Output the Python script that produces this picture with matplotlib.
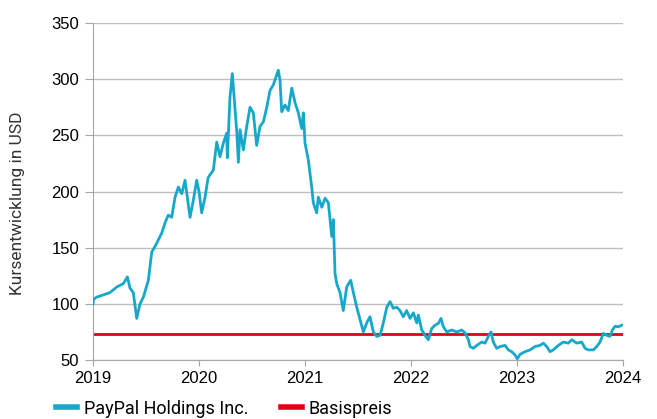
import matplotlib.pyplot as plt
from matplotlib.lines import Line2D

# Kursverlauf (Dezimaljahr, Kurs in USD)
years = [
    2019.000, 2019.005, 2019.035, 2019.097, 2019.160, 2019.224, 2019.286, 2019.324,
    2019.349, 2019.380, 2019.412, 2019.443, 2019.475, 2019.522, 2019.554, 2019.601,
    2019.648, 2019.679, 2019.710, 2019.742, 2019.774, 2019.805, 2019.837, 2019.868,
    2019.915, 2019.946, 2019.978, 2020.000, 2020.025, 2020.057, 2020.085, 2020.104,
    2020.135, 2020.167, 2020.198, 2020.229, 2020.261, 2020.267, 2020.292, 2020.314,
    2020.340, 2020.356, 2020.371, 2020.387, 2020.418, 2020.450, 2020.481, 2020.512,
    2020.544, 2020.575, 2020.607, 2020.639, 2020.670, 2020.701, 2020.733, 2020.748,
    2020.764, 2020.780, 2020.811, 2020.842, 2020.875, 2020.906, 2020.937, 2020.969,
    2020.984, 2021.000, 2021.031, 2021.063, 2021.078, 2021.110, 2021.125, 2021.158,
    2021.189, 2021.220, 2021.252, 2021.267, 2021.283, 2021.299, 2021.330, 2021.361,
    2021.393, 2021.431, 2021.456, 2021.488, 2021.519, 2021.550, 2021.582, 2021.613,
    2021.644, 2021.676, 2021.708, 2021.739, 2021.771, 2021.802, 2021.833, 2021.865,
    2021.896, 2021.927, 2021.959, 2021.991, 2022.022, 2022.054, 2022.069, 2022.101,
    2022.132, 2022.163, 2022.195, 2022.226, 2022.258, 2022.283, 2022.305, 2022.337,
    2022.384, 2022.431, 2022.478, 2022.509, 2022.541, 2022.557, 2022.588, 2022.620,
    2022.667, 2022.698, 2022.729, 2022.755, 2022.776, 2022.808, 2022.840, 2022.887,
    2022.918, 2022.950, 2022.981, 2023.003, 2023.028, 2023.075, 2023.123, 2023.170,
    2023.217, 2023.248, 2023.280, 2023.311, 2023.342, 2023.390, 2023.437, 2023.484,
    2023.516, 2023.563, 2023.610, 2023.642, 2023.673, 2023.720, 2023.752, 2023.783,
    2023.814, 2023.846, 2023.877, 2023.899, 2023.925, 2023.956, 2023.988,
]
prices = [
    100, 104, 106, 108, 110, 115, 118, 124,
    114, 110, 87, 100, 106, 121, 146, 154,
    163, 172, 179, 177, 195, 204, 198, 210,
    177, 192, 210, 200, 181, 195, 212, 215,
    219, 244, 231, 243, 252, 230, 284, 305,
    272, 253, 226, 255, 237, 258, 275, 270,
    241, 258, 262, 275, 290, 295, 304, 308,
    299, 271, 277, 272, 292, 279, 270, 256,
    270, 243, 228, 204, 190, 181, 195, 186,
    194, 190, 160, 175, 127, 118, 110, 94,
    115, 121, 110, 97, 86, 75, 83, 88.5,
    75, 71, 72, 83, 97, 102, 96, 97,
    94, 88.5, 94, 87, 92, 83, 90, 76.7,
    72, 68, 78, 81, 82.6, 87, 79.6, 75,
    76.7, 75, 76.7, 74.3, 68, 62, 60.4, 63,
    66, 65, 71, 75, 66, 60.4, 62, 63,
    59, 57.4, 54.5, 51, 55, 57.4, 59, 62,
    63, 65, 62, 57.4, 59, 63, 66, 65,
    68, 65, 66, 60.4, 59, 59, 62, 66,
    73.7, 72, 71, 76.7, 80, 79.6, 81,
]
strike = 73
year_ticks = [2019, 2020, 2021, 2022, 2023, 2024]
price_ticks = [50, 100, 150, 200, 250, 300, 350]

teal = '#16a8cb'
red = '#e2001a'
grey = '#bfbfbf'

fig = plt.figure(figsize=(6.57, 4.19), dpi=100)
ax = fig.add_axes([0.1416, 0.1408, 0.8067, 0.8043])

ax.plot(years, prices, color=teal, lw=2.0, solid_joinstyle='round', zorder=3)
ax.axhline(strike, color=red, lw=2.0, zorder=2)

ax.set_xlim(2019, 2024)
ax.set_ylim(50, 350)
ax.set_xticks(year_ticks)
ax.set_yticks(price_ticks)
ax.set_xticklabels([str(y) for y in year_ticks], family='Liberation Sans', fontsize=12)
ax.set_yticklabels([str(p) for p in price_ticks], family='Liberation Sans', fontsize=12)
ax.yaxis.grid(True, color=grey, lw=1.0)
ax.set_axisbelow(True)

for side in ['top', 'right']:
    ax.spines[side].set_visible(False)
for side in ['left', 'bottom']:
    ax.spines[side].set_color('#a6a6a6')
ax.tick_params(axis='y', length=6, color='#a6a6a6', pad=4)
ax.tick_params(axis='x', length=4, color='#a6a6a6', pad=4)

ax.set_ylabel('Kursentwicklung in USD', family='Roboto', fontsize=12.5, color='#333333')
ax.yaxis.set_label_coords(-0.128, 0.466)

handles = [Line2D([], [], color=teal, lw=4), Line2D([], [], color=red, lw=4)]
fig.legend(handles, ['PayPal Holdings Inc.', 'Basispreis'], loc='center left',
           bbox_to_anchor=(0.06, 0.025), ncol=2, frameon=False, handlelength=1.2,
           handletextpad=0.35, columnspacing=1.8, prop={'family': 'Roboto', 'size': 13})

fig.savefig('out.png', dpi=100)
